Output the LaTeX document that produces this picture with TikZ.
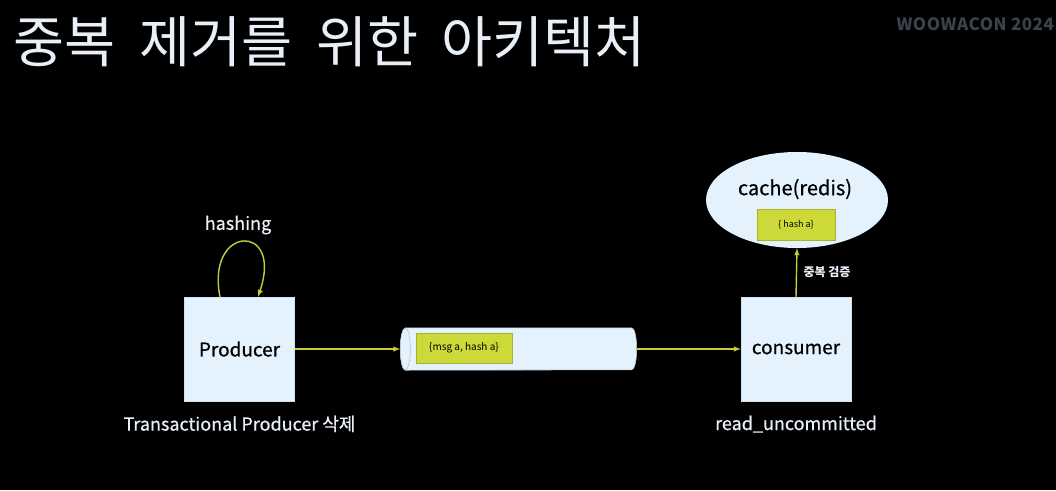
\documentclass[tikz,border=0pt]{standalone}
\usepackage{fontspec}
\setmainfont{Noto Sans CJK KR}
\newfontfamily\titlefont[WordSpace=1.9]{Noto Sans CJK KR}
\newfontfamily\medfont[FakeBold=0.6]{Noto Sans CJK KR}
\newfontfamily\logofont[LetterSpace=3]{Noto Sans CJK KR}
\usetikzlibrary{calc, arrows, positioning, shapes.geometric}
\definecolor{boxblue}{HTML}{E3F2FD}
\definecolor{arrowlime}{HTML}{C5CE3A}
\definecolor{hashfill}{HTML}{CDD938}
\definecolor{hashline}{HTML}{A8B22E}
\definecolor{paper}{HTML}{E8EFF6}
\definecolor{logogray}{HTML}{3C414E}
\def\rx{5pt}
\tikzset{box/.style={draw=boxblue!85!gray, fill=boxblue, minimum width=110pt, minimum height=104pt, font=\medfont\fontsize{19}{21}\selectfont}}
\tikzset{flow/.style={arrowlime, line width=1.4pt, -latex}}
\tikzset{hashbox/.style={draw=hashline, fill=hashfill, inner sep=0pt}}
\tikzset{caption/.style={text=paper, font=\medfont\fontsize{18}{21}\selectfont}}
\tikzset{tube/.style={fill=boxblue, draw=boxblue!60!gray, line width=0.6pt}}

\begin{document}
\begin{tikzpicture}[x=1pt, y=-1pt]
        % Background
        \fill[black] (0,0) rectangle (1056,490);
        \useasboundingbox (0,0) rectangle (1056,490);
        \node[anchor=west, text=paper, font=\titlefont\fontsize{55.5}{60}\selectfont] (title) at (10,42) {중복 제거를 위한 아키텍처};
        \node[anchor=west, text=logogray, font=\logofont\bfseries\fontsize{17}{20}\selectfont] (logo) at (893,24) {WOOWACON 2024};
        % Producer / consumer
        \node[box] (producer) at (239.5,349) {Producer};
        \node[box] (consumer) at (796,349) {consumer};
        \node[caption, below=11pt of producer] (txprod) {Transactional Producer 삭제};
        \node[caption, below=11pt of consumer] (readunc) {read\_uncommitted};
        % Topic (drawn as a lying cylinder)
        \node[minimum width=236pt, minimum height=42pt, inner sep=0pt] (topic) at (518.5,349) {};
        \draw[tube] ($(topic.north west)+(5,0)$) -- ($(topic.north east)+(-5,0)$)
          arc[start angle=90, end angle=-90, x radius=\rx, y radius=21pt]
          -- ($(topic.south west)+(5,0)$)
          arc[start angle=270, end angle=90, x radius=\rx, y radius=21pt] -- cycle;
        \draw[tube] ($(topic.west)+(5,0)$) ellipse[x radius=\rx, y radius=21pt];
        \node[hashbox, minimum width=96pt, minimum height=30pt, font=\fontsize{10}{12}\selectfont] (msg) at (464,348) {\{msg a, hash a\}};
        % Cache
        \node[ellipse, fill=boxblue, inner sep=0pt, minimum width=182pt, minimum height=96pt] (cache) at (797,200) {};
        \node[font=\medfont\fontsize{20}{23}\selectfont] (cachelbl) at (795,189) {cache(redis)};
        \node[hashbox, minimum width=78pt, minimum height=31pt, font=\fontsize{9}{10}\selectfont] (hash) at (796,224.5) {\{ hash a\}};
        % Arrows
        \foreach \from/\to in {producer/topic, topic/consumer} {
          \draw[flow] (\from.east) -- (\to.west);
        }
        \draw[flow] (consumer.north) -- (cache.south) node[midway, right=3pt, text=paper, font=\bfseries\fontsize{12}{14}\selectfont] (check) {중복 검증};
        \draw[flow] ($(producer.north)+(-19.5,0)$) .. controls ($(producer.north)+(-34,-72)$) and ($(producer.north)+(44,-75)$) .. ($(producer.north)+(18.5,0)$);
        \node[caption] (hashing) at (238,225) {hashing};
\end{tikzpicture}
\end{document}
